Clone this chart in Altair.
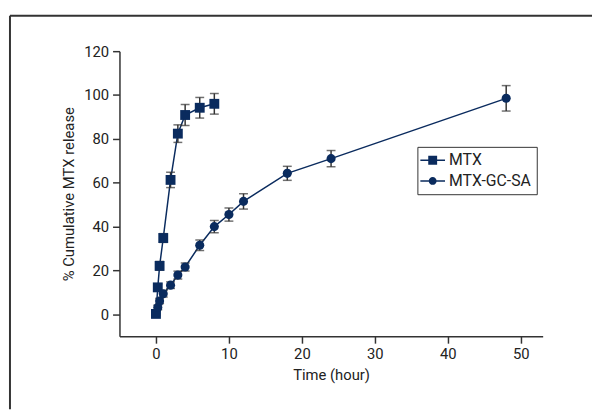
import altair as alt
import pandas as pd

# ---- data ----
mtx_time = [0, 0.25, 0.5, 1, 2, 3, 4, 6, 8]
mtx_val = [0.2, 12.3, 22.1, 34.8, 61.3, 82.4, 90.9, 94.2, 96.0]
mtx_err = [1.0, 1.5, 2.0, 2.0, 3.5, 4.0, 4.8, 4.7, 4.7]

gc_time = [0, 0.25, 0.5, 1, 2, 3, 4, 6, 8, 10, 12, 18, 24, 48]
gc_val = [0.5, 3.1, 6.1, 9.4, 13.3, 17.9, 21.6, 31.5, 40.0, 45.5, 51.5, 64.3, 71.0, 98.5]
gc_err = [0.8, 1.0, 1.2, 1.5, 1.5, 1.8, 1.8, 2.4, 2.8, 3.0, 3.5, 3.2, 3.7, 5.8]

series_names = ["MTX", "MTX-GC-SA"]
x_ticks = [0, 10, 20, 30, 40, 50]
y_ticks = [0, 20, 40, 60, 80, 100, 120]

NAVY = "#0a2b5e"
GREY = "#333333"
FONT = "Roboto"

rows = []
for t, v, e in zip(mtx_time, mtx_val, mtx_err):
    rows.append({"series": series_names[0], "t": t, "v": v, "lo": v - e, "hi": v + e})
for t, v, e in zip(gc_time, gc_val, gc_err):
    rows.append({"series": series_names[1], "t": t, "v": v, "lo": v - e, "hi": v + e})
df = pd.DataFrame(rows)

xs = alt.Scale(domain=[-5, 53], nice=False, zero=False)
ys = alt.Scale(domain=[-10, 120], nice=False)

x_enc = alt.X("t:Q", scale=xs, axis=alt.Axis(values=x_ticks, title="Time (hour)"))
y_enc = alt.Y("v:Q", scale=ys, axis=alt.Axis(values=y_ticks, title="% Cumulative MTX release"))

base = alt.Chart(df)

err = base.mark_errorbar(ticks=alt.TickConfig(size=9, thickness=1.5, color=GREY),
                         rule=alt.LineConfig(strokeWidth=1.5, color=GREY), color=GREY).encode(
    x=alt.X("t:Q", scale=xs),
    y=alt.Y("lo:Q", scale=ys, title="% Cumulative MTX release"),
    y2="hi:Q",
    detail="series:N",
)

lines = base.mark_line(color=NAVY, strokeWidth=1.5).encode(
    x=x_enc, y=y_enc, detail="series:N"
)

pts_sq = base.transform_filter(alt.datum.series == series_names[0]).mark_point(
    shape="square", filled=True, color=NAVY, size=100, opacity=1
).encode(x=x_enc, y=y_enc)

pts_ci = base.transform_filter(alt.datum.series == series_names[1]).mark_point(
    shape="circle", filled=True, color=NAVY, size=85, opacity=1
).encode(x=x_enc, y=y_enc)

# legend-only layer with custom symbols (line + marker)
sq_path = "M-1.47,-0.09H-0.53V0.09H-1.47Z M0.53,-0.09H1.47V0.09H0.53Z M-0.53,-0.53H0.53V0.53H-0.53Z"
ci_path = ("M-1.47,-0.09H-0.44V0.09H-1.47Z M0.44,-0.09H1.47V0.09H0.44Z "
           "M0.47,0 A0.47,0.47 0 1,1 -0.47,0 A0.47,0.47 0 1,1 0.47,0Z")
leg_df = pd.DataFrame({"series": series_names})
legend_layer = alt.Chart(leg_df).mark_point(filled=True, color=NAVY, opacity=0).encode(
    shape=alt.Shape(
        "series:N",
        scale=alt.Scale(domain=series_names, range=[sq_path, ci_path]),
        legend=alt.Legend(
            title=None, orient="none", legendX=302, legendY=97,
            symbolSize=289, symbolOpacity=1, symbolFillColor=NAVY, symbolStrokeWidth=0,
            labelFont=FONT, labelFontSize=16, labelColor="#222222",
            strokeColor=GREY, padding=5, rowPadding=4, symbolOffset=2,
            labelOffset=8,
        ),
    )
)

frame_df = pd.DataFrame({"k": [0]})
frame_v = alt.Chart(frame_df).mark_rule(color=GREY, strokeWidth=2).encode(
    x=alt.value(-111), y=alt.value(-36), y2=alt.value(363)
)
frame_h = alt.Chart(frame_df).mark_rule(color=GREY, strokeWidth=2).encode(
    x=alt.value(-111), x2=alt.value(479), y=alt.value(-36)
)

chart = alt.layer(frame_v, frame_h, lines, err, pts_sq, pts_ci, legend_layer).properties(
    width=429, height=289,
    autosize=alt.AutoSizeParams(type="none"),
    padding={"left": 113, "top": 41, "right": 50, "bottom": 74},
).configure_view(stroke=None).configure_axis(
    grid=False,
    domainColor=GREY, domainWidth=1.5,
    tickColor=GREY, tickWidth=1.5, tickSize=7,
    labelFont=FONT, labelFontSize=15, labelColor="#222222", labelPadding=4,
    titleFont=FONT, titleFontSize=15, titleColor="#222222", titleFontWeight="normal",
).configure_axisX(titlePadding=6).configure_axisY(titlePadding=7)

chart.save("out.html", embed_options={"renderer": "svg", "actions": False})
